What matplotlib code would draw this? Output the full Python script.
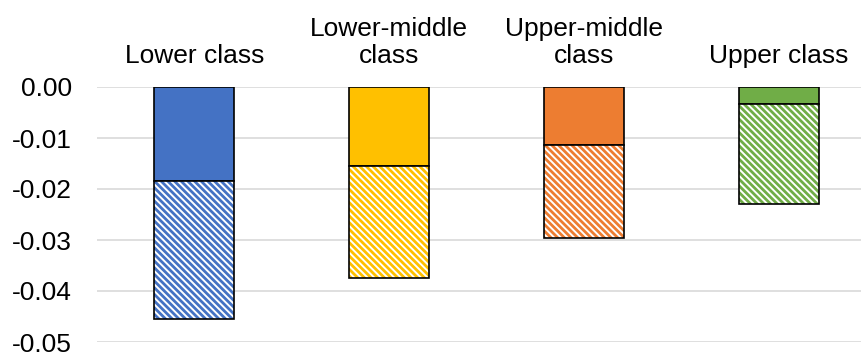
import numpy as np
import matplotlib.pyplot as plt

plt.rcParams['font.family'] = ['Liberation Sans', 'DejaVu Sans']
plt.rcParams['hatch.linewidth'] = 2.0

classes = ["Lower class", "Lower-middle\nclass", "Upper-middle\nclass", "Upper class"]
solid_part = [-0.0184, -0.0154, -0.0113, -0.0033]
total = [-0.0455, -0.0375, -0.0297, -0.0229]
colors = ["#4472C4", "#FFC000", "#ED7D31", "#70AD47"]

hatched_part = [t - s for t, s in zip(total, solid_part)]

fig = plt.figure(figsize=(8.61, 3.53), dpi=100)
ax = fig.add_axes([97 / 861, 11 / 353, 779 / 861, 255 / 353])

x = np.arange(len(classes))
w = 0.41
for i in range(len(classes)):
    ax.bar(x[i], solid_part[i], w, color=colors[i], edgecolor="black", linewidth=1.2, zorder=3)
    ax.bar(x[i], hatched_part[i], w, bottom=solid_part[i], color="white",
           edgecolor=colors[i], hatch="\\" * 5, linewidth=0, zorder=3)
    # outline drawn separately so the hatch keeps the series colour
    ax.bar(x[i], hatched_part[i], w, bottom=solid_part[i], fill=False,
           edgecolor="black", linewidth=1.2, zorder=4)

ax.set_xlim(-0.5, 3.5)
ax.set_ylim(-0.05, 0)
ax.set_yticks([0, -0.01, -0.02, -0.03, -0.04, -0.05])
ax.set_yticklabels(["0.00", "-0.01", "-0.02", "-0.03", "-0.04", "-0.05"], fontsize=19)
ax.yaxis.grid(True, color="#D9D9D9", linewidth=1.2, zorder=0)
ax.tick_params(axis="y", length=0, pad=18)

ax.xaxis.tick_top()
ax.set_xticks(x)
ax.set_xticklabels(classes, fontsize=19, linespacing=1.15)
ax.tick_params(axis="x", length=0, pad=14)

for s in ax.spines.values():
    s.set_visible(False)

fig.savefig("out.png", dpi=100)
